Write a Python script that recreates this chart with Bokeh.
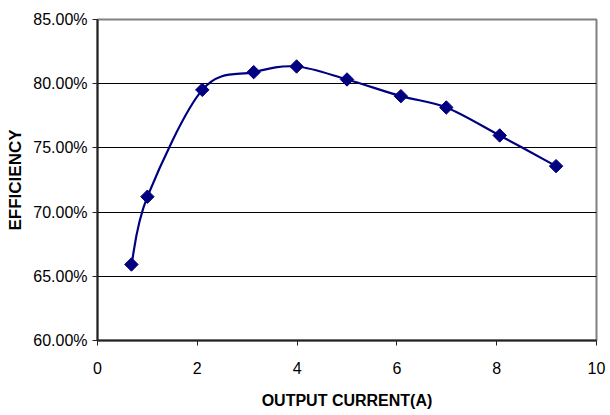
import numpy as np
from bokeh.plotting import figure
from bokeh.models import Range1d, FixedTicker, NumeralTickFormatter
from bokeh.embed import file_html
from bokeh.resources import INLINE

# Data
current_a = [0.68, 1.00, 2.10, 3.13, 3.99, 5.00, 6.08, 6.99, 8.06, 9.19]
efficiency = [0.6592, 0.7120, 0.7952, 0.8090, 0.8134, 0.8033, 0.7903, 0.7815, 0.7597, 0.7358]
x_ticks = [0, 2, 4, 6, 8, 10]
y_ticks = [0.60, 0.65, 0.70, 0.75, 0.80, 0.85]
grid_ticks = [0.65, 0.70, 0.75, 0.80]

FONT = "Liberation Sans"
NAVY = "#000080"

p = figure(frame_width=499, frame_height=321, output_backend="svg", toolbar_location=None,
           x_range=Range1d(0, 10), y_range=Range1d(0.60, 0.85),
           min_border_left=97, min_border_top=19, min_border_right=14, min_border_bottom=75)

p.background_fill_color = "white"
p.border_fill_color = "white"
p.outline_line_color = "#808080"
p.outline_line_width = 2

# Grid
p.xgrid.visible = False
p.ygrid.ticker = FixedTicker(ticks=grid_ticks)
p.ygrid.grid_line_color = "black"
p.ygrid.grid_line_width = 1

# Axes
p.xaxis.ticker = FixedTicker(ticks=x_ticks)
p.yaxis.ticker = FixedTicker(ticks=y_ticks)
p.yaxis.formatter = NumeralTickFormatter(format="0.00%")
for ax in (p.xaxis[0], p.yaxis[0]):
    ax.axis_line_color = "#222222"
    ax.axis_line_width = 2
    ax.major_tick_line_color = "#222222"
    ax.major_tick_line_width = 1
    ax.major_tick_in = 0
    ax.major_tick_out = 5
    ax.minor_tick_line_color = None
    ax.major_label_text_font = FONT
    ax.major_label_text_font_size = "16px"
    ax.major_label_text_color = "black"
    ax.axis_label_text_font = FONT
    ax.axis_label_text_font_style = "bold"
    ax.axis_label_text_color = "black"

p.xaxis.axis_label = "OUTPUT CURRENT(A)"
p.xaxis.axis_label_text_font_size = "16px"
p.xaxis.major_label_standoff = 16
p.xaxis.axis_label_standoff = 15
p.yaxis.axis_label = "EFFICIENCY"
p.yaxis.axis_label_text_font_size = "17px"
p.yaxis.major_label_standoff = 5
p.yaxis.axis_label_standoff = 5

# Smoothed line (Catmull-Rom style Bezier segments, like a spreadsheet "smoothed line")
xs = np.array(current_a)
ys = np.array(efficiency)
xp = np.concatenate([[xs[0]], xs, [xs[-1]]])
yp = np.concatenate([[ys[0]], ys, [ys[-1]]])
n = len(xs)
x0 = xs[:-1]; y0 = ys[:-1]
x1 = xs[1:]; y1 = ys[1:]
cx0 = x0 + (xp[2:n + 1] - xp[0:n - 1]) / 6.0
cy0 = y0 + (yp[2:n + 1] - yp[0:n - 1]) / 6.0
cx1 = x1 - (xp[3:n + 2] - xp[1:n]) / 6.0
cy1 = y1 - (yp[3:n + 2] - yp[1:n]) / 6.0
p.bezier(x0=x0, y0=y0, x1=x1, y1=y1, cx0=cx0, cy0=cy0, cx1=cx1, cy1=cy1,
         line_color=NAVY, line_width=2.2)

p.scatter(current_a, efficiency, marker="square", angle=np.pi / 4, size=9.5,
          fill_color=NAVY, line_color=NAVY)

open("out.html", "w").write(file_html(p, INLINE))
